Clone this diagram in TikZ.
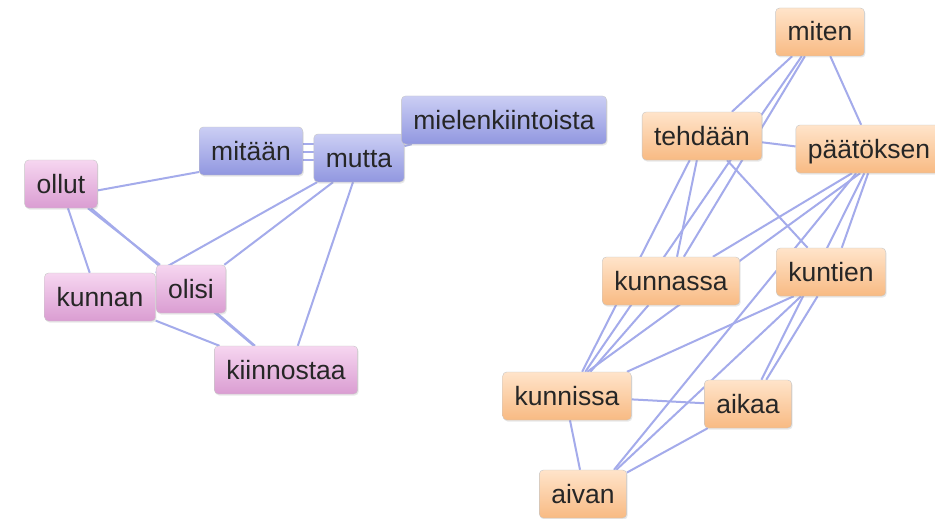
\documentclass[tikz,border=0pt]{standalone}
\usepackage{fontspec}
\setmainfont{Liberation Sans}
\usetikzlibrary{backgrounds,
                shadows}

\definecolor{linkblue}{HTML}{A4ABEB}
\definecolor{bluetop}{HTML}{CBCEF4}
\definecolor{bluebot}{HTML}{9197E0}
\definecolor{pinktop}{HTML}{F6D6F0}
\definecolor{pinkbot}{HTML}{DA9DD2}
\definecolor{orangetop}{HTML}{FFE4CA}
\definecolor{orangebot}{HTML}{F8BA83}

\tikzset{
  word/.style={draw=black!22, rounded corners=4pt, inner xsep=12pt, inner ysep=0pt,
               minimum height=48pt, text height=22pt, text depth=4pt, text=black!85,
               font=\fontsize{26.5}{30}\selectfont,
               drop shadow={opacity=0.18, shadow xshift=1pt, shadow yshift=-1.5pt}},
  blueword/.style={word, top color=bluetop, bottom color=bluebot},
  pinkword/.style={word, top color=pinktop, bottom color=pinkbot},
  orangeword/.style={word, top color=orangetop, bottom color=orangebot},
  link/.style={draw=linkblue, line width=2pt}
}

\begin{document}
\begin{tikzpicture}[x=1pt, y=-1pt]
 \useasboundingbox (0,0) rectangle (935,519);
 % left group
 \node[pinkword]   (ollut)      at (61,184)  {ollut};
 \node[blueword]   (mitaan)     at (251,151) {mitään};
 \node[blueword]   (mutta)      at (359,158) {mutta};
 \node[blueword]   (mielenk)    at (504,120) {mielenkiintoista};
 \node[pinkword]   (kunnan)     at (100,297) {kunnan};
 \node[pinkword]   (olisi)      at (191,289) {olisi};
 \node[pinkword]   (kiinnostaa) at (286,370) {kiinnostaa};
 % right group
 \node[orangeword] (miten)      at (820,32)  {miten};
 \node[orangeword] (tehdaan)    at (702,136) {tehdään};
 \node[orangeword] (paatoksen)  at (869,149) {päätöksen};
 \node[orangeword] (kunnassa)   at (671,281) {kunnassa};
 \node[orangeword] (kuntien)    at (831,272) {kuntien};
 \node[orangeword] (kunnissa)   at (567,396) {kunnissa};
 \node[orangeword] (aikaa)      at (748,404) {aikaa};
 \node[orangeword] (aivan)      at (583,494) {aivan};

 \begin{scope}[on background layer]
  \fill[white] (0,0) rectangle (935,519);
  % left links
  \draw[link] (ollut.-10) -- (mitaan.-158);
  \foreach \a/\b in {-7/-14, 1/-6, 9/2}
    \draw[link] ([shift={(0,\a)}]mitaan.east) -- ([shift={(0,\b)}]mutta.west);
  \draw[link] (mutta) -- (mielenk);
  \draw[link] (ollut.-74) -- (kunnan.113);
  \draw[link] (ollut.-42) -- (olisi.142);
  \draw[link] (ollut.-39) -- (kiinnostaa.143);
  \draw[link] (olisi.-43) -- (kiinnostaa.142);
  \draw[link] (kunnan.-23) -- (kiinnostaa.160);
  \draw[link] (mutta.-150) -- (kunnan.north east);
  \draw[link] (mutta.-137) -- (olisi.36);
  \draw[link] (mutta.-104) -- (kiinnostaa.64);
  % right links
  \draw[link] (miten.-139) -- (tehdaan.39);
  \draw[link] (miten.-67) -- (paatoksen.108);
  \draw[link] (miten.-122) -- (kunnassa.62);
  \draw[link] (miten.-127) -- (kunnissa.53);
  \draw[link] (tehdaan.-6) -- (paatoksen.178);
  \draw[link] (tehdaan.-102) -- (kunnassa.76);
  \draw[link] (tehdaan.-117) -- (kunnissa.58);
  \draw[link] (tehdaan.-44) -- (kuntien.134);
  \draw[link] (paatoksen.-125) -- (kunnassa.30);
  \draw[link] (paatoksen.-110) -- (kunnissa.50);
  \draw[link] (paatoksen.-92) -- (kuntien.66);
  \draw[link] (paatoksen.-101) -- (aikaa.61);
  \draw[link] (paatoksen.-118) -- (aivan.38);
  \draw[link] (kunnassa.-133) -- (kunnissa.46);
  \draw[link] (kuntien.-119) -- (aikaa.53);
  \draw[link] (kuntien.-147) -- (kunnissa.22);
  \draw[link] (kuntien.-141) -- (aivan.36);
  \draw[link] (kunnissa.-3) -- (aikaa.179);
  \draw[link] (kunnissa.-83) -- (aivan.97);
  \draw[link] (aikaa.-149) -- (aivan.26);
 \end{scope}
\end{tikzpicture}
\end{document}
